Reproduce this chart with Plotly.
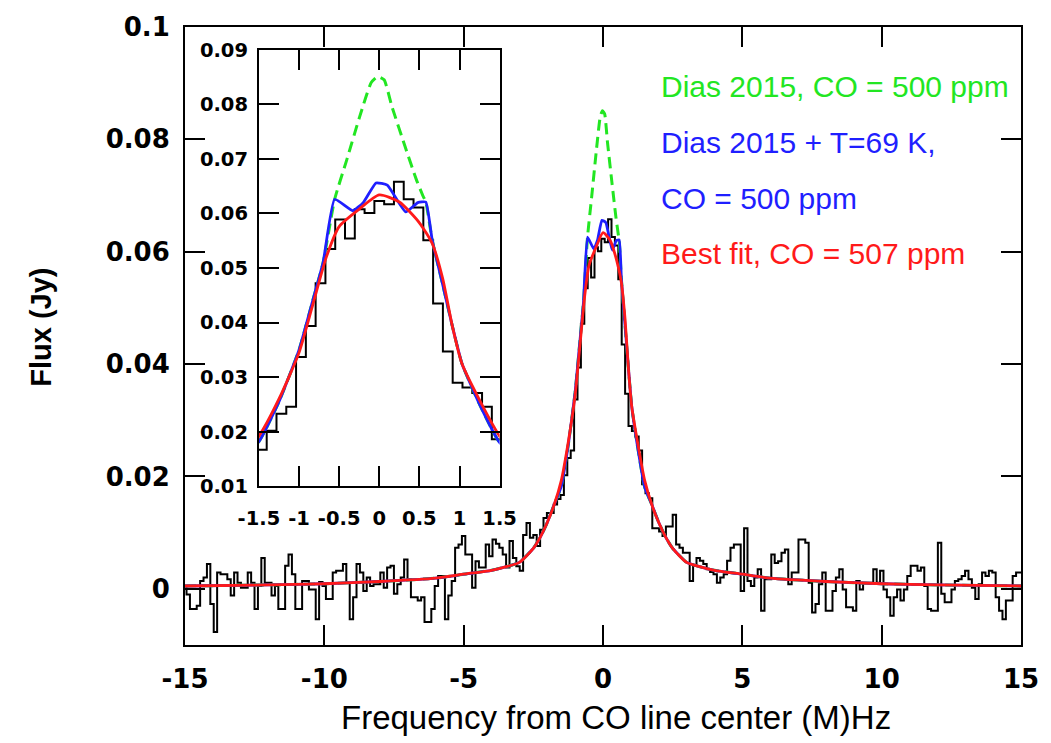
import numpy as np
import plotly.graph_objects as go

# ---------------- data ----------------
# observed spectrum: channel index (0.122 MHz channels) and flux in Jy
channel_index = list(range(-123, 124))
channel_width_mhz = 0.122

flux_left_far = [
    0.0005, -0.0010, -0.0036, -0.0036, -0.0030, 0.0014, 0.0020, 0.0044, -0.0027, -0.0077,
    0.0029, 0.0026, 0.0026, 0.0017, -0.0012, 0.0029, 0.0011, 0.0002, 0.0002, 0.0029,
    0.0011, -0.0036, 0.0005, 0.0055, 0.0011, 0.0011, -0.0012, 0.0005, -0.0036, -0.0036,
    0.0041, 0.0061, 0.0026, -0.0036, -0.0036, 0.0014, 0.0014, -0.0001, -0.0001, -0.0054,
]
flux_left_mid = [
    0.0012, 0.0005, -0.0018, -0.0018, 0.0029, 0.0032, 0.0032, 0.0044, 0.0011, -0.0054,
    -0.0015, 0.0044, 0.0029, -0.0004, 0.0020, 0.0005, 0.0008, 0.0008, 0.0029, 0.0002,
    0.0038, 0.0041, -0.0009, 0.0008, 0.0020, 0.0052, 0.0017, -0.0015, -0.0015, -0.0021,
    -0.0015, -0.0059, -0.0059, -0.0036, 0.0005, 0.0023, 0.0023, -0.0054, -0.0012, 0.0014,
    0.0073, 0.0079, 0.0094, 0.0061,
]
flux_left_wing = [
    0.0061, 0.0002, 0.0049, 0.0038, 0.0038, 0.0079, 0.0058, 0.0088, 0.0080, 0.0073,
    0.0061, 0.0038, 0.0085, 0.0055, 0.0040, 0.0032, 0.0096, 0.0117, 0.0091, 0.0096,
    0.0076, 0.0105, 0.0126, 0.0135, 0.0135, 0.0150, 0.0160,
]
flux_core = [
    0.0167, 0.0202, 0.0233, 0.0246, 0.0337, 0.0394, 0.0472, 0.0535, 0.0589, 0.0554,
    0.0608, 0.0601, 0.0623, 0.0617, 0.0658, 0.0626, 0.0611, 0.0551, 0.0435, 0.0347,
    0.0290, 0.0281, 0.0271, 0.0246, 0.0186,
]
flux_right_wing = [
    0.0170, 0.0161, 0.0108, 0.0108, 0.0102, 0.0094, 0.0111, 0.0111, 0.0132, 0.0079,
    0.0073, 0.0064, 0.0064, 0.0014, 0.0041, 0.0055, 0.0050, 0.0044, 0.0035, 0.0030,
    0.0026, 0.0011, 0.0020, 0.0026, 0.0050, 0.0073, 0.0079, 0.0079, -0.0004, 0.0108,
    0.0014, 0.0005, 0.0020,
]
flux_right_mid = [
    0.0035, -0.0039, 0.0017, 0.0017, 0.0061, 0.0046, 0.0049, 0.0064, 0.0070, 0.0008,
    0.0029, 0.0029, 0.0088, 0.0088, 0.0082, 0.0011, -0.0042, -0.0027, 0.0008, 0.0029,
    -0.0039, -0.0039, -0.0004, 0.0020, 0.0035, -0.0001, -0.0033, -0.0033, -0.0039, 0.0014,
    -0.0001, 0.0011, 0.0011, 0.0011, 0.0035, 0.0011, 0.0032, -0.0001,
]
flux_right_far = [
    -0.0015, -0.0048, -0.0015, -0.0001, -0.0021, -0.0001, 0.0023, 0.0041, 0.0041, 0.0032,
    0.0038, 0.0005, -0.0036, -0.0039, -0.0039, 0.0082, -0.0009, -0.0024, -0.0024, -0.0001,
    0.0014, 0.0017, 0.0023, 0.0032, 0.0017, 0.0002, -0.0018, 0.0008, 0.0029, 0.0023,
    0.0032, 0.0029, -0.0015, -0.0039, -0.0054, -0.0021, -0.0021, 0.0023, 0.0029, 0.0029,
]

# model: Dias 2015, CO = 500 ppm (green dashed)
dias_x = [-15, -12, -10, -8, -6, -5, -4, -3.5, -3, -2.5, -2.25, -2, -1.75, -1.5, -1.25,
          -1.0, -0.83, -0.7, -0.556, -0.41, -0.245, -0.1, -0.02, 0.06, 0.16, 0.33, 0.46,
          0.545, 0.58, 0.66, 0.79, 0.91, 1.03, 1.25, 1.5, 1.75, 2, 2.25, 2.5, 3, 3.5, 4,
          5, 6, 8, 10, 12, 15]
dias_y = [0.0005, 0.0007, 0.0009, 0.0013, 0.0019, 0.0026, 0.0033, 0.0039, 0.0047, 0.0072,
          0.0092, 0.0118, 0.0150, 0.0182, 0.0255, 0.0350, 0.0440, 0.0510, 0.0626, 0.0696,
          0.0777, 0.0840, 0.0851, 0.0845, 0.0795, 0.0719, 0.0663, 0.0632, 0.0621, 0.0551,
          0.0470, 0.0394, 0.0325, 0.0250, 0.0180, 0.0150, 0.0118, 0.0092, 0.0072, 0.0047,
          0.0039, 0.0033, 0.0026, 0.0019, 0.0013, 0.0009, 0.0007, 0.0005]

# model: Dias 2015 + T=69 K, CO = 500 ppm (blue)
warm_x = [-15, -12, -10, -8, -6, -5, -4, -3.5, -3, -2.5, -2.25, -2, -1.75, -1.5, -1.25,
          -1.0, -0.83, -0.7, -0.556, -0.33, -0.2, -0.04, 0.1, 0.33, 0.48, 0.58, 0.66,
          0.79, 0.91, 1.03, 1.25, 1.5, 1.75, 2, 2.25, 2.5, 3, 3.5, 4, 5, 6, 8, 10, 12, 15]
warm_y = [0.0005, 0.0007, 0.0009, 0.0013, 0.0019, 0.0026, 0.0033, 0.0039, 0.0047, 0.0072,
          0.0092, 0.0118, 0.0150, 0.0182, 0.0255, 0.0350, 0.0440, 0.0510, 0.0626, 0.0605,
          0.0620, 0.0656, 0.0652, 0.0603, 0.0620, 0.0621, 0.0551, 0.0470, 0.0394, 0.0325,
          0.0250, 0.0180, 0.0150, 0.0118, 0.0092, 0.0072, 0.0047, 0.0039, 0.0033, 0.0026,
          0.0019, 0.0013, 0.0009, 0.0007, 0.0005]

# best fit, CO = 507 ppm (red)
fit_x = [-15, -12, -10, -8, -6, -5, -4, -3.5, -3, -2.5, -2.25, -2, -1.75, -1.5, -1.25,
         -1.0, -0.83, -0.66, -0.5, -0.25, 0, 0.25, 0.5, 0.66, 0.79, 0.91, 1.03, 1.25,
         1.5, 1.75, 2, 2.25, 2.5, 3, 3.5, 4, 5, 6, 8, 10, 12, 15]
fit_y = [0.0005, 0.0007, 0.0009, 0.0013, 0.0019, 0.0026, 0.0033, 0.0039, 0.0047, 0.0072,
         0.0092, 0.0118, 0.0150, 0.0192, 0.0260, 0.0345, 0.0432, 0.0520, 0.0576, 0.0608,
         0.0634, 0.0621, 0.0583, 0.0545, 0.0481, 0.0394, 0.0325, 0.0258, 0.0192, 0.0150,
         0.0118, 0.0092, 0.0072, 0.0047, 0.0039, 0.0033, 0.0026, 0.0019, 0.0013, 0.0009,
         0.0007, 0.0005]

main_xticks = [-15, -10, -5, 0, 5, 10, 15]
main_xticklabels = ["-15", "-10", "-5", "0", "5", "10", "15"]
main_yticks = [0, 0.02, 0.04, 0.06, 0.08, 0.1]
main_yticklabels = ["0", "0.02", "0.04", "0.06", "0.08", "0.1"]
inset_xticks = [-1.5, -1, -0.5, 0, 0.5, 1, 1.5]
inset_xticklabels = ["-1.5", "-1", "-0.5", "0", "0.5", "1", "1.5"]
inset_yticks = [0.01, 0.02, 0.03, 0.04, 0.05, 0.06, 0.07, 0.08, 0.09]
inset_yticklabels = ["0.01", "0.02", "0.03", "0.04", "0.05", "0.06", "0.07", "0.08", "0.09"]

legend_lines = [
    ("Dias 2015, CO = 500 ppm", "#22e622"),
    ("Dias 2015 + T=69 K,", "#1f1fff"),
    ("CO = 500 ppm", "#1f1fff"),
    ("Best fit, CO = 507 ppm", "#ff1a1a"),
]

# ---------------- figure ----------------
flux = (flux_left_far + flux_left_mid + flux_left_wing + flux_core
        + flux_right_wing + flux_right_mid + flux_right_far)
freq = np.round(np.array(channel_index) * channel_width_mhz, 4)

GREEN = "#22e622"
BLUE = "#1f1fff"
RED = "#ff1a1a"

W, H = 1051, 743
ML, MR, MT, MB = 185, 29, 22, 98
PW, PH = W - ML - MR, H - MT - MB


def px_to_paper(px, py):
    return (px - ML) / PW, (H - MB - py) / PH


fig = go.Figure()

for xa, ya in (("x", "y"), ("x2", "y2")):
    fig.add_trace(go.Scatter(x=freq, y=flux, mode="lines", line=dict(color="black", width=2, shape="hvh"),
                             xaxis=xa, yaxis=ya, showlegend=False, hoverinfo="skip"))
    fig.add_trace(go.Scatter(x=dias_x, y=dias_y, mode="lines",
                             line=dict(color=GREEN, width=3, dash="11px,6px", shape="spline", smoothing=0.5),
                             xaxis=xa, yaxis=ya, showlegend=False))
    fig.add_trace(go.Scatter(x=warm_x, y=warm_y, mode="lines",
                             line=dict(color=BLUE, width=2.8, shape="spline", smoothing=0.4),
                             xaxis=xa, yaxis=ya, showlegend=False))
    fig.add_trace(go.Scatter(x=fit_x, y=fit_y, mode="lines",
                             line=dict(color=RED, width=2.8, shape="spline", smoothing=0.6),
                             xaxis=xa, yaxis=ya, showlegend=False))

axis_common = dict(showline=True, linewidth=2, linecolor="black", mirror="ticks",
                   ticks="inside", tickwidth=2, tickcolor="black", ticklen=20,
                   showgrid=False, zeroline=False)

tick_family = "DejaVu Sans, Verdana, sans-serif"
main_font = dict(family=tick_family, size=26, color="black", weight="bold")
inset_font = dict(family=tick_family, size=19.5, color="black", weight="bold")
text_family = "Liberation Sans, Arial, sans-serif"

ix0, iy0 = px_to_paper(259, 485)
ix1, iy1 = px_to_paper(500, 45)

fig.update_layout(
    width=W, height=H,
    margin=dict(l=ML, r=MR, t=MT, b=MB),
    paper_bgcolor="white", plot_bgcolor="white",
    xaxis=dict(range=[-15, 15], tickvals=main_xticks, ticktext=main_xticklabels, tickfont=main_font,
               ticklabelstandoff=10, **axis_common),
    yaxis=dict(range=[-0.01, 0.1], tickvals=main_yticks, ticktext=main_yticklabels,
               tickfont=main_font, ticklabelstandoff=8, **axis_common),
    xaxis2=dict(domain=[ix0, ix1], anchor="y2", range=[-1.5, 1.5], tickvals=inset_xticks,
                ticktext=inset_xticklabels, tickfont=inset_font, ticklabelstandoff=13, **axis_common),
    yaxis2=dict(domain=[iy0, iy1], anchor="x2", range=[0.01, 0.09], tickvals=inset_yticks,
                ticktext=inset_yticklabels, tickfont=inset_font, ticklabelstandoff=5, **axis_common),
)

annotations = []
tx, ty = px_to_paper(617, 718)
annotations.append(dict(text="Frequency from CO line center (M)Hz", x=tx, y=ty, xref="paper", yref="paper",
                        showarrow=False, xanchor="center", yanchor="middle",
                        font=dict(family=text_family, size=33, color="black")))
tx, ty = px_to_paper(40, 325)
annotations.append(dict(text="Flux (Jy)", x=tx, y=ty, xref="paper", yref="paper", textangle=-90,
                        showarrow=False, xanchor="center", yanchor="middle",
                        font=dict(family=text_family, size=29, color="black", weight="bold")))
for (label, color), py in zip(legend_lines, [82, 138, 195, 250]):
    tx, ty = px_to_paper(660, py)
    annotations.append(dict(text=label, x=tx, y=ty, xref="paper", yref="paper", showarrow=False,
                            xanchor="left", yanchor="middle",
                            font=dict(family=text_family, size=30, color=color)))
fig.update_layout(annotations=annotations)

fig.write_html("out.html")
